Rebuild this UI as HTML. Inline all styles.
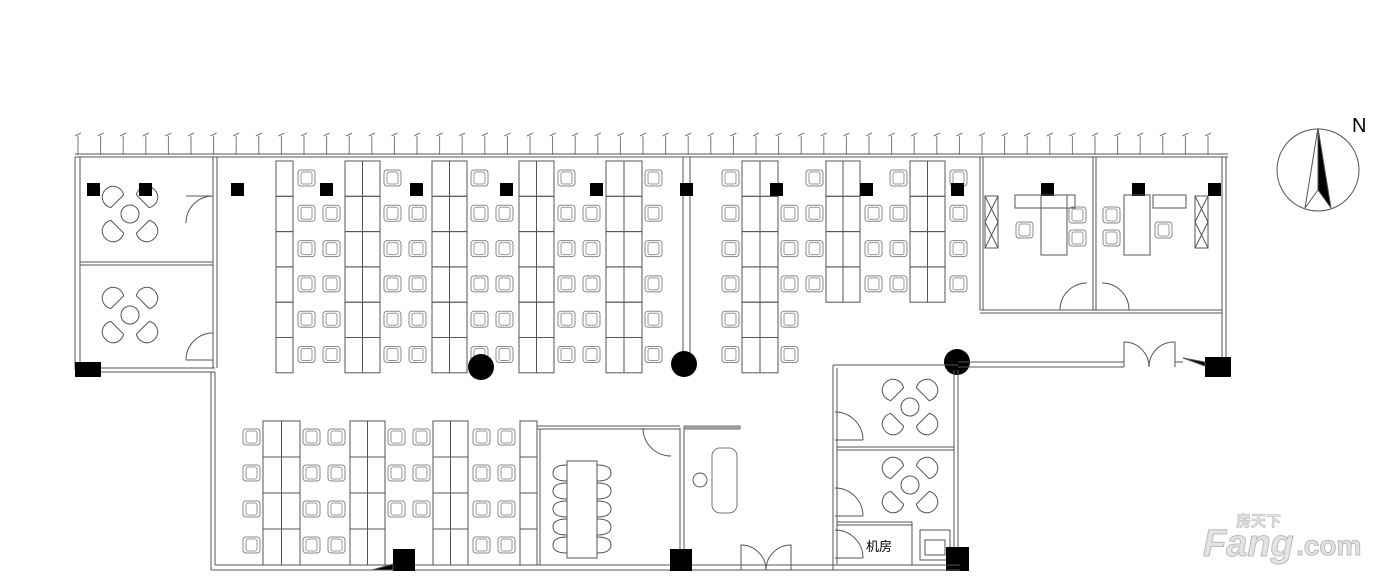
<!DOCTYPE html>
<html><head><meta charset="utf-8"><style>
html,body{margin:0;padding:0;background:#fff;width:1400px;height:579px;overflow:hidden}
svg{position:absolute;left:0;top:0}
.t{font-family:"Liberation Sans","Noto Sans CJK SC",sans-serif}
</style></head><body>
<svg id="s" width="1400" height="579" viewBox="0 0 1400 579" xmlns="http://www.w3.org/2000/svg">
<g id="g" fill="none" stroke="#555" stroke-width="1"></g>
<text class="t" x="1352" y="132" font-size="20" fill="#000">N</text>
<text class="t" x="866" y="551" font-size="13" fill="#000">机房</text>
<text class="t" x="1203" y="556" font-size="38" font-weight="bold" font-style="italic" fill="#e4e4e4" stroke="#bbb" stroke-width="1">Fang</text>
<text class="t" x="1296" y="555" font-size="28" font-weight="bold" fill="#e4e4e4" stroke="#bbb" stroke-width="1">.com</text>
<text class="t" x="1236" y="526" font-size="15" font-weight="bold" fill="#e4e4e4" stroke="#bbb" stroke-width="0.6">房天下</text>
</svg>
<script>
var g=document.getElementById('g'),o='';
function L(x1,y1,x2,y2,c,w){o+='<line x1="'+x1+'" y1="'+y1+'" x2="'+x2+'" y2="'+y2+'" stroke="'+(c||'#555')+'" stroke-width="'+(w||1)+'"/>';}
function R(x,y,w,h,f,c){o+='<rect x="'+x+'" y="'+y+'" width="'+w+'" height="'+h+'" fill="'+(f||'none')+'" stroke="'+(c||'#555')+'"/>';}
function B(x,y,w,h){o+='<rect x="'+x+'" y="'+y+'" width="'+w+'" height="'+h+'" fill="#000" stroke="none"/>';}
function C(cx,cy,r,f){o+='<circle cx="'+cx+'" cy="'+cy+'" r="'+r+'" fill="'+(f||'none')+'" stroke="'+(f?'none':'#555')+'"/>';}
function P(d,f){o+='<path d="'+d+'" fill="'+(f||'none')+'" stroke="#555"/>';}
function ch(x,y){o+='<rect x="'+x+'" y="'+y+'" width="17" height="16" rx="3" fill="none" stroke="#888"/><rect x="'+(x+3)+'" y="'+(y+2)+'" width="11" height="12" rx="2" fill="none" stroke="#999"/>';}
L(75,154,1228,154);L(75,157,1228,157);
for(var x=78;x<1228;x+=22.6){L(x,136,x,155,'#777');L(x-3,136,x+3,133,'#777');}
L(75,157,75,370);L(80,157,80,368);L(213,157,213,368);L(217,157,217,368);
L(80,262,213,262);L(80,265,213,265);
L(100,368,215,368);L(100,372,215,372);
L(211,372,211,570);L(215,372,215,565);
B(75,362,26,15);
function petal(cx,cy,a){o+='<g transform="translate('+cx+' '+cy+') rotate('+a+')"><path d="M6 -9 L6 9 A11 11 0 0 1 -9 6 A13 13 0 0 1 -9 -6 A11 11 0 0 1 6 -9 Z" fill="none" stroke="#555"/></g>';}
function lounge(cx,cy){C(cx,cy,9);petal(cx-17,cy-17,45);petal(cx+17,cy-17,135);petal(cx-17,cy+17,-45);petal(cx+17,cy+17,-135);}
lounge(130,214);lounge(130,315);lounge(910,407);lounge(910,485);
P('M213 196 A27 27 0 0 0 186 223');L(186,196,213,196);
P('M213 333 A27 27 0 0 0 186 360');L(186,360,213,360);
P('M835 412 A28 28 0 0 1 863 440');L(835,440,863,440);
P('M835 488 A28 28 0 0 1 863 516');L(835,516,863,516);
P('M835 530 A28 28 0 0 1 863 558');L(835,558,863,558);
P('M643 428 A28 28 0 0 0 671 456');
var cols=[[276,17,6],[345,35,6],[432,35,6],[519,35,6],[606,36,6],[742,36,6],[826,34,4],[910,35,4]];
cols.forEach(function(c){var n=c[2],h=35.3;for(var i=0;i<n;i++){R(c[0],161+i*h,c[1],h);} if(c[1]>20)L(c[0]+c[1]/2,161,c[0]+c[1]/2,161+n*h);});
[298,384,471,558,645,722,806,890,950].forEach(function(x){ch(x,170);});
[[298,6],[323,6],[384,6],[409,6],[471,6],[496,6],[558,6],[583,6],[645,6],[722,6],[781,6],[806,4],[865,4],[890,4],[950,4]].forEach(function(c){for(var i=1;i<c[1];i++)ch(c[0],170+i*35.3);});
L(683,157,683,365);L(690,157,690,365);
[[87,183],[139,183],[231,183],[320,183],[410,183],[500,183],[590,183],[680,183],[770,183],[860,183],[951,183],[1041,183],[1132,183],[1208,183]].forEach(function(p){B(p[0],p[1],13,13);});
C(481,367,13,'#000');C(684,364,13,'#000');C(957,362,13,'#000');
L(980,157,980,310);L(983,157,983,310);L(1093,157,1093,310);L(1096,157,1096,310);
L(980,310,1222,310);L(980,313,1222,313);L(1222,157,1222,362);L(1226,157,1226,362);
R(985,196,13,52);L(985,196,998,222);L(998,196,985,222);L(985,222,998,248);L(998,222,985,248);
R(1195,196,13,52);L(1195,196,1208,222);L(1208,196,1195,222);L(1195,222,1208,248);L(1208,222,1195,248);
R(1015,195,60,13);R(1041,195,26,60);R(1153,195,33,13);R(1124,195,26,60);
ch(1016,222);ch(1069,207);ch(1069,230);ch(1103,207);ch(1103,230);ch(1155,222);
P('M1060 310 A27 27 0 0 1 1087 283');P('M1102 283 A27 27 0 0 1 1129 310');
L(958,362,1124,362);L(958,367,1124,367);L(1175,362,1183,362);
P('M1124 367 L1124 342 A25 25 0 0 1 1149 367');P('M1175 367 L1175 342 A25 25 0 0 0 1149 367');
B(1205,357,26,20);P('M1183 358 L1205 362 L1205 366 Z','#000');
L(833,365,958,365);L(833,365,833,570);L(837,368,837,565);L(954,370,954,565);L(958,370,958,565);
L(837,447,954,447);L(837,450,954,450);L(837,522,912,522);L(837,525,912,525);L(912,522,912,565);
R(920,530,30,30);R(925,540,20,15);
B(946,547,23,24);
L(211,570,960,570);L(215,565,960,565);
var bc=[[263,37],[350,35],[433,35],[520,17]];
bc.forEach(function(c){for(var i=0;i<4;i++)R(c[0],421+i*36,c[1],36);if(c[1]>20)L(c[0]+c[1]/2,421,c[0]+c[1]/2,565);});
[[243,4],[303,4],[328,4],[388,3],[413,3],[473,4],[498,4]].forEach(function(c){for(var i=0;i<c[1];i++)ch(c[0],429+i*36);});
B(393,549,22,22);P('M372 570 L393 564 L393 570 Z','#000');
L(537,426,680,426);L(537,429,680,429);L(537,426,537,565);L(540,429,540,565);
R(567,461,30,97);for(var i=0;i<5;i++){P('M567 '+(465+i*18)+' q-14 0 -14 8 q0 8 14 8');P('M597 '+(465+i*18)+' q14 0 14 8 q0 8 -14 8');}
L(680,428,680,565);L(684,428,684,565);R(684,426,56,3,'#aaa','#777');
o+='<rect x="712" y="448" width="25" height="65" rx="8" fill="none" stroke="#777"/>';
C(700,480,7);B(670,549,22,22);
P('M741 570 L741 545 A25 25 0 0 1 766 570');P('M791 570 L791 545 A25 25 0 0 0 766 570');
C(1318,170,41);P('M1318 128 L1331 208 L1318 190 Z','#000');P('M1318 128 L1305 208 L1318 190');
g.innerHTML=o;
</script>
</body></html>
